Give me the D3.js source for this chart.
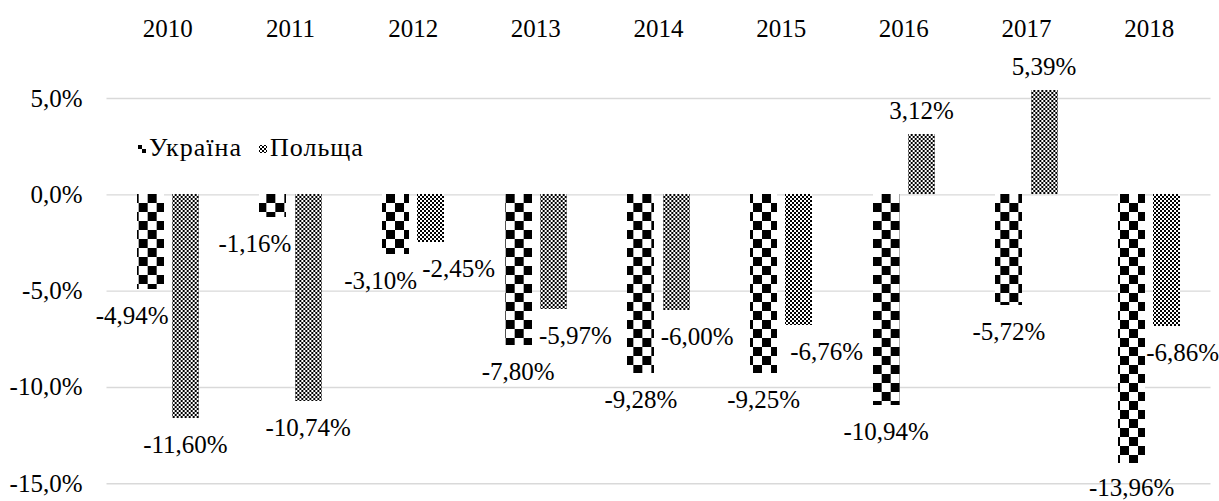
<!DOCTYPE html>
<html><head><meta charset="utf-8">
<script src="https://cdn.jsdelivr.net/npm/d3@7"></script>
<style>
html,body{margin:0;padding:0;background:#fff;}
svg{display:block;font-family:"Liberation Serif","Times New Roman",serif;}
</style></head><body>
<svg id="chart" width="1219" height="501"></svg>
<script>
// ---- data ----
const years = ["2010","2011","2012","2013","2014","2015","2016","2017","2018"];
const seriesNames = ["Україна","Польща"];
const ukraine = [-4.94,-1.16,-3.10,-7.80,-9.28,-9.25,-10.94,-5.72,-13.96];
const poland = [-11.60,-10.74,-2.45,-5.97,-6.00,-6.76,3.12,5.39,-6.86];
const yTicks = [5,0,-5,-10,-15];

// ---- layout (label nudges, px) ----
const ukraineLabelDx = [-18,-18,-15,0,0,0,0,0,0];
const polandLabelDx = [0,0,28,22,21,28,0,0,16];

const FS = 25;
const H = 501;
const svg = d3.select("#chart");
const plotL = 106.5, plotR = 1210.5;

const loc = d3.formatLocale({decimal:",", thousands:" ", grouping:[3], currency:["",""], minus:"-"});
const fmt2 = loc.format(".2f"), fmt1 = loc.format(".1f");

const x0 = d3.scaleBand().domain(years).range([plotL, plotR]).paddingInner(0.492).paddingOuter(0.246);
const x1 = d3.scaleBand().domain(["ua","pl"]).range([0, x0.bandwidth()]).paddingInner(0.228);
const y = d3.scaleLinear().domain([-15,5]).range([483.3,98]);

const defs = svg.append("defs");

// y axis with gridlines
const gy = svg.append("g").attr("transform",`translate(${plotL},0)`)
  .call(d3.axisLeft(y).tickValues(yTicks).tickSize(-(plotR-plotL)).tickPadding(24)
    .tickFormat(d => fmt1(d) + "%"));
gy.select(".domain").remove();
gy.selectAll("line").attr("stroke","#d9d9d9").attr("stroke-width",1.4);
gy.selectAll("text").attr("font-size",FS).attr("fill","#000")
  .attr("font-family",'"Liberation Serif",serif');

// top year axis
const gx = svg.append("g").attr("transform","translate(0,40)")
  .call(d3.axisTop(x0).tickSize(0).tickPadding(3));
gx.select(".domain").remove();
gx.selectAll("text").attr("font-size",FS).attr("fill","#000")
  .attr("font-family",'"Liberation Serif",serif');

// rows
const rows = years.map((yr,i) => ({year:yr, i, ua:ukraine[i], pl:poland[i]}));

// fine checker pattern for Poland
const pp = defs.append("pattern").attr("id","pl-pat").attr("patternUnits","userSpaceOnUse")
  .attr("width",4).attr("height",4);
pp.append("rect").attr("width",4).attr("height",4).attr("fill","#fff");
pp.append("rect").attr("width",2).attr("height",2).attr("fill","#000");
pp.append("rect").attr("x",2).attr("y",2).attr("width",2).attr("height",2).attr("fill","#000");

function bigChecker(id, x, yy, c) {
  const p = defs.append("pattern").attr("id",id).attr("patternUnits","userSpaceOnUse")
    .attr("x",x).attr("y",yy).attr("width",2*c).attr("height",2*c);
  p.append("rect").attr("width",2*c).attr("height",2*c).attr("fill","#fff");
  p.append("rect").attr("width",c).attr("height",c).attr("fill","#000");
  p.append("rect").attr("x",c).attr("y",c).attr("width",c).attr("height",c).attr("fill","#000");
}

const groups = svg.append("g").selectAll("g").data(rows).join("g")
  .attr("transform", d => `translate(${x0(d.year)},0)`);

groups.each(function(d){
  const g = d3.select(this);
  const bx = Math.round(x0(d.year) + x1("ua"));
  const top = Math.round(y(Math.max(0,d.ua)));
  const bot = Math.round(y(Math.min(0,d.ua)));
  bigChecker("ua-"+d.i, bx, top, 9);
  g.append("rect").attr("x", bx - x0(d.year)).attr("y", top)
    .attr("width", Math.round(x1.bandwidth())).attr("height", bot-top)
    .attr("fill", `url(#ua-${d.i})`).attr("shape-rendering","crispEdges");
  const px = Math.round(x0(d.year) + x1("pl"));
  const ptop = Math.round(y(Math.max(0,d.pl)));
  const pbot = Math.round(y(Math.min(0,d.pl)));
  g.append("rect").attr("x", px - x0(d.year)).attr("y", ptop)
    .attr("width", Math.round(x1.bandwidth())).attr("height", pbot-ptop)
    .attr("fill", "url(#pl-pat)").attr("shape-rendering","crispEdges");
});

// data labels
function labelY(v){
  const ly = v < 0 ? y(v) + 26.5 : y(v) - 23.5;
  return Math.min(ly, H - FS/2 - 1.5);
}
const lab = svg.append("g").attr("font-size",FS).attr("fill","#000")
  .attr("text-anchor","middle").attr("dominant-baseline","central");
lab.selectAll("text.ua").data(rows).join("text").attr("class","ua")
  .attr("x", d => x0(d.year) + x1("ua") + x1.bandwidth()/2 + ukraineLabelDx[d.i])
  .attr("y", d => labelY(d.ua))
  .text(d => fmt2(d.ua) + "%");
lab.selectAll("text.pl").data(rows).join("text").attr("class","pl")
  .attr("x", d => x0(d.year) + x1("pl") + x1.bandwidth()/2 + polandLabelDx[d.i])
  .attr("y", d => labelY(d.pl))
  .text(d => fmt2(d.pl) + "%");

// legend
bigChecker("ua-leg", 138, 145, 4);
const legX = [138, 259];
const legFill = ["url(#ua-leg)","url(#pl-pat)"];
const leg = svg.append("g").selectAll("g").data(seriesNames).join("g");
leg.append("rect").attr("x",(d,i)=>legX[i]).attr("y",145).attr("width",8).attr("height",8)
  .attr("fill",(d,i)=>legFill[i]).attr("shape-rendering","crispEdges");
leg.append("text").attr("x",(d,i)=>legX[i]+11).attr("y",156)
  .attr("font-size",26).attr("letter-spacing",1).attr("fill","#000").text(d=>d);
</script>
</body></html>
